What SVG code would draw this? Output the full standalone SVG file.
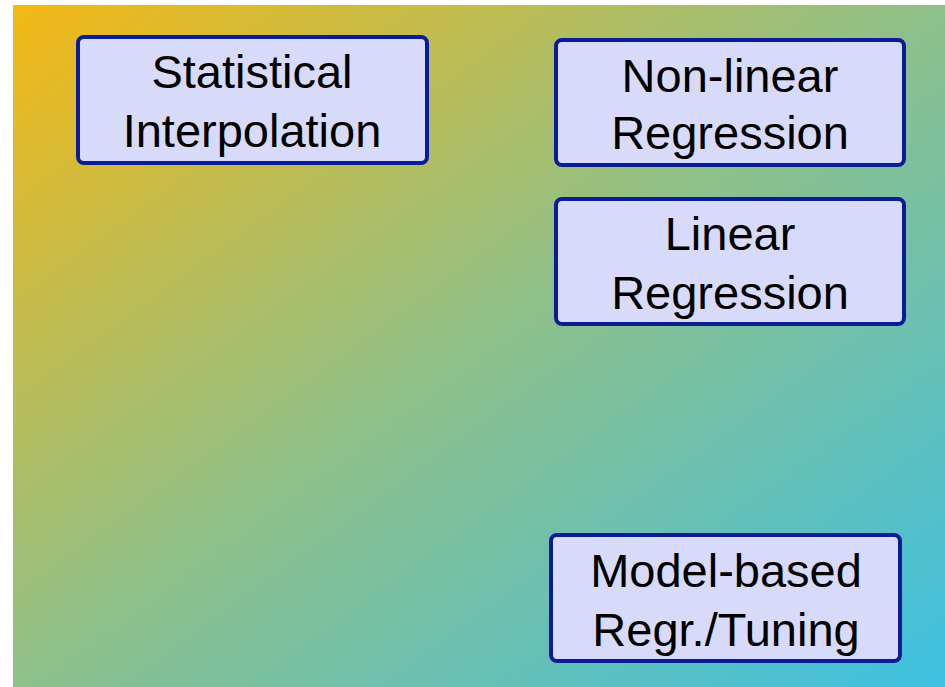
<svg xmlns="http://www.w3.org/2000/svg" width="945" height="687" viewBox="0 0 945 687">
<defs>
<linearGradient id="bg" x1="0" y1="0" x2="1" y2="1">
<stop offset="0" stop-color="#f4b814"/>
<stop offset="0.5" stop-color="#8ec08a"/>
<stop offset="1" stop-color="#3ec0e2"/>
</linearGradient>
<style>
.box{fill:#d8daf9;stroke:#0a1c96;stroke-width:4}
.t{font-family:"Liberation Sans",Arial,Helvetica,sans-serif;font-size:47px;fill:#000;text-anchor:middle}
</style>
</defs>
<rect x="0" y="0" width="945" height="687" fill="#ffffff"/>
<rect x="13" y="5" width="932" height="682" fill="url(#bg)"/>
<g id="connectors"></g>
<g id="statistical-interpolation">
<rect class="box" x="78" y="37" width="349" height="126" rx="6"/>
<text class="t" x="252" y="88">Statistical</text>
<text class="t" x="252" y="147">Interpolation</text>
</g>
<g id="non-linear-regression">
<rect class="box" x="556" y="40" width="348" height="125" rx="6"/>
<text class="t" x="730" y="92">Non-linear</text>
<text class="t" x="730" y="149">Regression</text>
</g>
<g id="linear-regression">
<rect class="box" x="556" y="199" width="348" height="125" rx="6"/>
<text class="t" x="730" y="250">Linear</text>
<text class="t" x="730" y="309">Regression</text>
</g>
<g id="model-based">
<rect class="box" x="551" y="535" width="349" height="126" rx="6"/>
<text class="t" x="726" y="587">Model-based</text>
<text class="t" x="726" y="646">Regr./Tuning</text>
</g>
</svg>
